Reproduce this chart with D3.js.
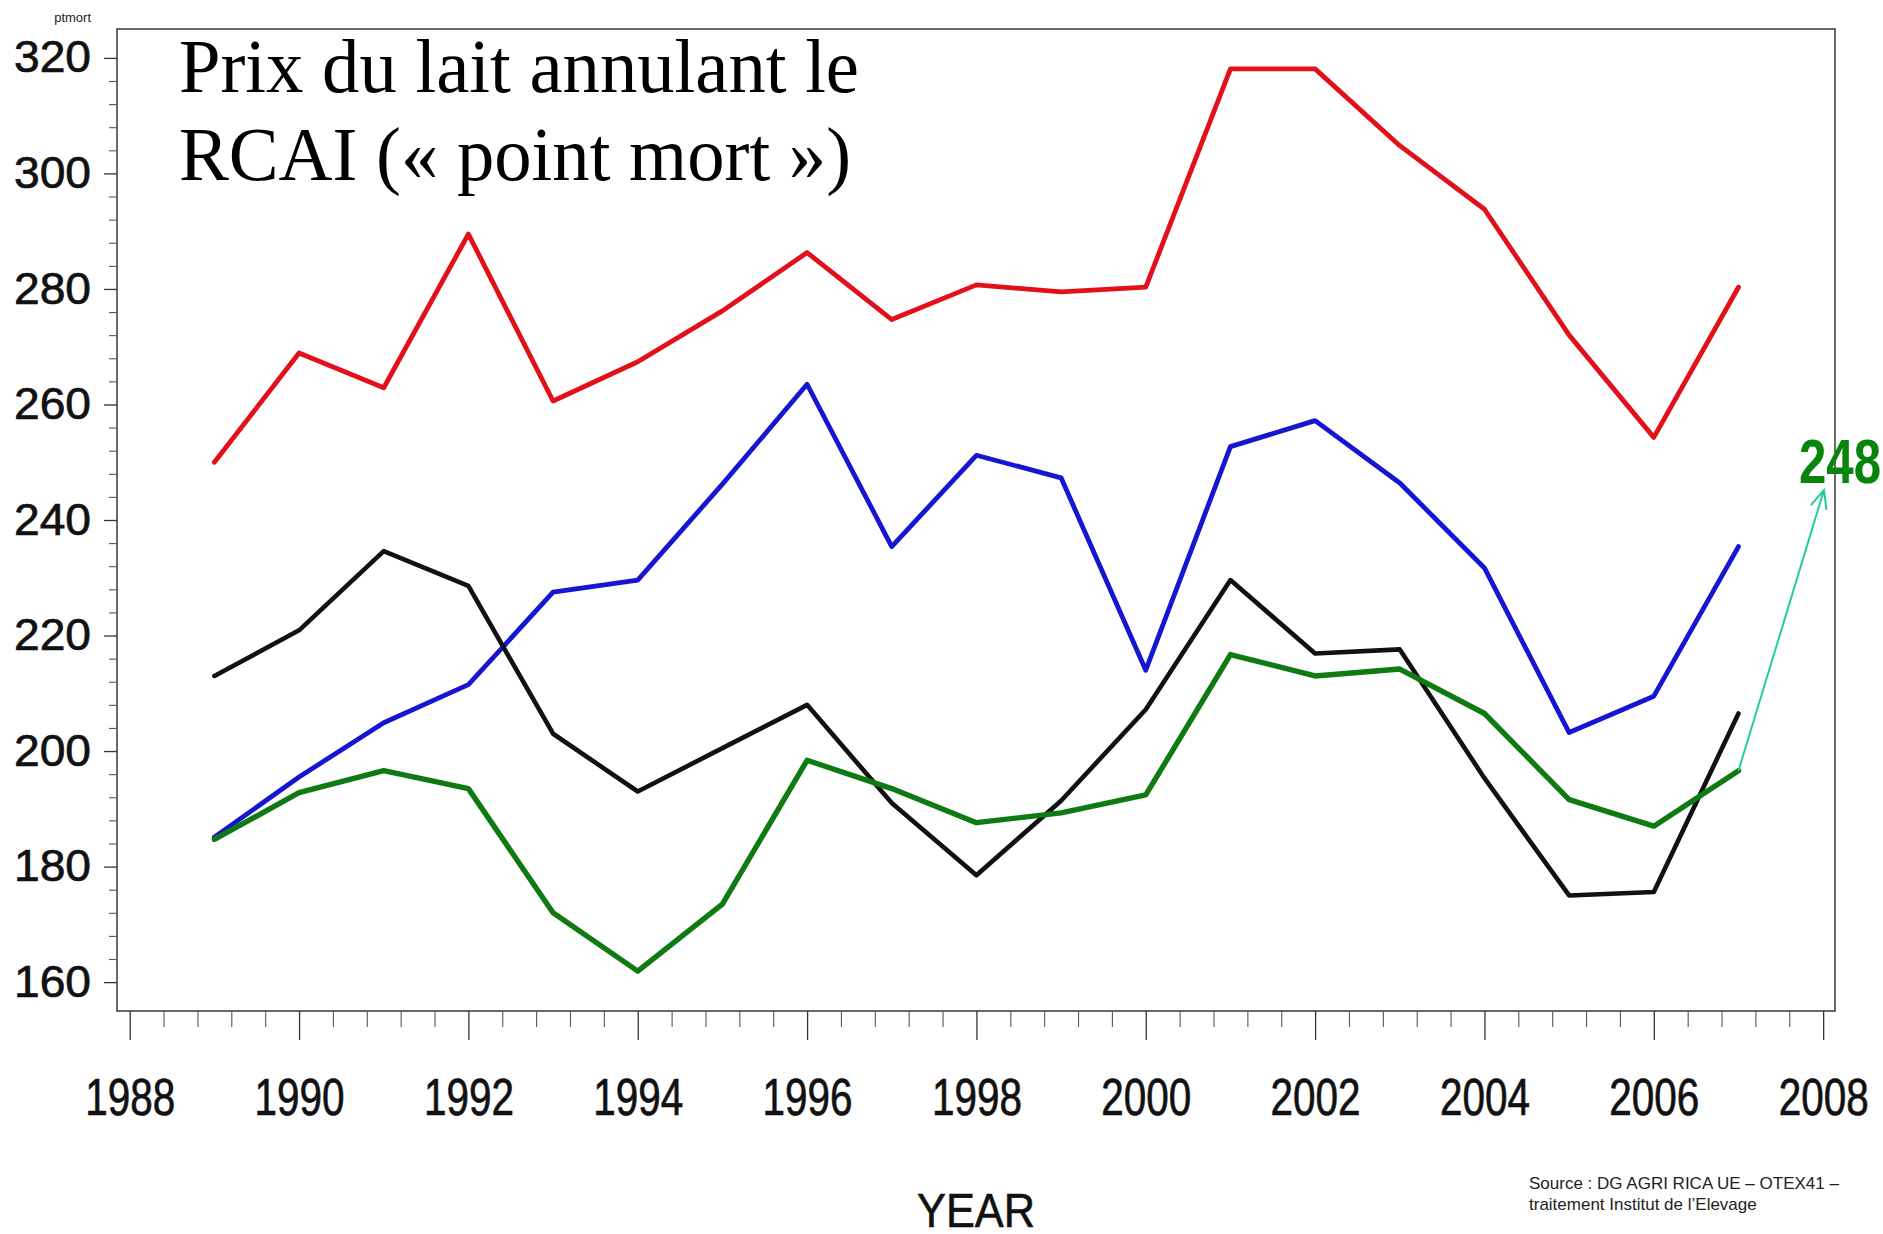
<!DOCTYPE html>
<html>
<head>
<meta charset="utf-8">
<script src="https://cdn.jsdelivr.net/npm/d3@7"></script>
<style>
  body { margin: 0; background: #fff; }
  svg { display: block; }
</style>
</head>
<body>
<svg id="chart" width="1883" height="1234"></svg>
<script>
var years = [1989, 1990, 1991, 1992, 1993, 1994, 1995, 1996, 1997, 1998,
             1999, 2000, 2001, 2002, 2003, 2004, 2005, 2006, 2007];

var red_values   = [250.0, 268.9, 262.9, 289.5, 260.6, 267.4, 276.2, 286.3, 274.7, 280.7,
                    279.5, 280.3, 318.1, 318.1, 304.8, 293.8, 272.0, 254.3, 280.3];
var blue_values  = [185.1, 195.5, 204.9, 211.5, 227.5, 229.6, 246.2, 263.5, 235.4, 251.2,
                    247.3, 214.0, 252.7, 257.2, 246.4, 231.7, 203.2, 209.5, 235.4];
var black_values = [213.0, 220.9, 234.6, 228.6, 203.0, 193.0, 200.5, 208.0, 191.0, 178.5,
                    191.4, 207.2, 229.6, 216.9, 217.6, 195.3, 175.0, 175.6, 206.5];
var green_values = [184.7, 192.8, 196.6, 193.5, 172.0, 161.9, 173.5, 198.4, 193.5, 187.6,
                    189.3, 192.4, 216.7, 213.0, 214.2, 206.5, 191.6, 187.0, 196.6];

var series = [
  {name: 'red',   color: '#e3101a', width: 4.8, values: red_values},
  {name: 'blue',  color: '#1515d2', width: 4.8, values: blue_values},
  {name: 'black', color: '#111111', width: 4.6, values: black_values},
  {name: 'green', color: '#0f7a12', width: 5.4, values: green_values}
];

var y_major_ticks = d3.range(160, 321, 20);
var y_minor_ticks = d3.range(160, 321, 4).filter(function(d){ return d % 20 !== 0; });
var x_major_ticks = d3.range(1988, 2009, 2);
var x_minor_ticks = d3.range(0, 51).map(function(i){ return 1988 + i * 0.4; })
  .filter(function(d){ return Math.abs(d - Math.round(d / 2) * 2) > 0.01; });

var title_lines = ['Prix du lait annulant le', 'RCAI (\u00ab point mort \u00bb)'];
var title_widths = [680, 672];
var source_lines = ['Source : DG AGRI RICA UE \u2013 OTEX41  \u2013', 'traitement Institut de l\u2019Elevage'];
var annotation_value = 248;

var frame = {left: 117, top: 29, right: 1835, bottom: 1011};

var x_scale = d3.scaleLinear().domain([1987.85, 2008.14]).range([frame.left, frame.right]);
var y_scale = d3.scaleLinear().domain([155, 325]).range([frame.bottom, frame.top]);

var svg = d3.select('#chart');

// plot frame
svg.append('rect')
  .attr('x', frame.left)
  .attr('y', frame.top)
  .attr('width', frame.right - frame.left)
  .attr('height', frame.bottom - frame.top)
  .style('fill', 'none')
  .style('stroke', '#444')
  .style('stroke-width', '1.6px');

// y axis, major ticks and labels
var y_axis = svg.append('g')
  .attr('class', 'y_axis')
  .attr('transform', 'translate(' + frame.left + ',0)')
  .call(d3.axisLeft(y_scale).tickValues(y_major_ticks).tickSize(13).tickPadding(13).tickSizeOuter(0));

y_axis.select('.domain').remove();
y_axis.selectAll('line').style('stroke', '#333').style('stroke-width', '1.3px');
y_axis.selectAll('text')
  .style('font-family', '"Liberation Sans", Arial, sans-serif')
  .style('font-size', '44px')
  .style('fill', '#111')
  .style('stroke', '#111')
  .style('stroke-width', '0.7px')
  .attr('textLength', 77)
  .attr('lengthAdjust', 'spacingAndGlyphs');

// y axis, minor ticks
svg.append('g')
  .attr('class', 'y_minor')
  .attr('transform', 'translate(' + frame.left + ',0)')
  .call(d3.axisLeft(y_scale).tickValues(y_minor_ticks).tickSize(8).tickFormat(''))
  .call(function(g){ g.select('.domain').remove(); })
  .selectAll('line').style('stroke', '#555').style('stroke-width', '1.1px');

// x axis, major ticks and labels
var x_axis = svg.append('g')
  .attr('class', 'x_axis')
  .attr('transform', 'translate(0,' + frame.bottom + ')')
  .call(d3.axisBottom(x_scale).tickValues(x_major_ticks).tickFormat(d3.format('d'))
    .tickSize(29).tickPadding(38).tickSizeOuter(0));

x_axis.select('.domain').remove();
x_axis.selectAll('line').style('stroke', '#333').style('stroke-width', '1.3px');
x_axis.selectAll('text')
  .style('font-family', '"Liberation Sans", Arial, sans-serif')
  .style('font-size', '52px')
  .style('fill', '#111')
  .style('stroke', '#111')
  .style('stroke-width', '0.7px')
  .attr('textLength', 90)
  .attr('lengthAdjust', 'spacingAndGlyphs');

// x axis, minor ticks
svg.append('g')
  .attr('class', 'x_minor')
  .attr('transform', 'translate(0,' + frame.bottom + ')')
  .call(d3.axisBottom(x_scale).tickValues(x_minor_ticks).tickSize(16).tickFormat(''))
  .call(function(g){ g.select('.domain').remove(); })
  .selectAll('line').style('stroke', '#555').style('stroke-width', '1.1px');

// axis names
svg.append('text')
  .attr('x', 91)
  .attr('y', 22)
  .attr('text-anchor', 'end')
  .style('font-family', '"Liberation Sans", Arial, sans-serif')
  .style('font-size', '13px')
  .style('fill', '#222')
  .text('ptmort');

svg.append('text')
  .attr('x', (frame.left + frame.right) / 2)
  .attr('y', 1227)
  .attr('text-anchor', 'middle')
  .attr('textLength', 118)
  .attr('lengthAdjust', 'spacingAndGlyphs')
  .style('font-family', '"Liberation Sans", Arial, sans-serif')
  .style('font-size', '49px')
  .style('fill', '#111')
  .style('stroke', '#111')
  .style('stroke-width', '0.6px')
  .text('YEAR');

// series lines
var line = d3.line()
  .x(function(d){ return x_scale(d.year); })
  .y(function(d){ return y_scale(d.value); });

svg.append('g')
  .attr('class', 'series')
  .selectAll('path')
  .data(series)
  .enter()
  .append('path')
  .attr('d', function(s){
    return line(years.map(function(yr, i){ return {year: yr, value: s.values[i]}; }));
  })
  .style('fill', 'none')
  .style('stroke', function(s){ return s.color; })
  .style('stroke-width', function(s){ return s.width + 'px'; })
  .style('stroke-linejoin', 'round')
  .style('stroke-linecap', 'round');

// title
svg.append('g')
  .attr('class', 'title')
  .selectAll('text')
  .data(title_lines)
  .enter()
  .append('text')
  .attr('x', 179)
  .attr('y', function(d, i){ return 92 + i * 88; })
  .attr('textLength', function(d, i){ return title_widths[i]; })
  .attr('lengthAdjust', 'spacingAndGlyphs')
  .style('font-family', '"Liberation Serif", "Times New Roman", serif')
  .style('font-size', '77px')
  .style('fill', '#000')
  .text(function(d){ return d; });

// annotation arrow from last green point to the 248 label
var arrow_start = [x_scale(2007), y_scale(green_values[green_values.length - 1])];
var arrow_tip = [1824, 490];
var arrow_angle = Math.atan2(arrow_tip[1] - arrow_start[1], arrow_tip[0] - arrow_start[0]);
var head_len = 20, head_spread = 0.42;

svg.append('path')
  .attr('d',
    'M' + arrow_start[0] + ',' + arrow_start[1] + 'L' + arrow_tip[0] + ',' + arrow_tip[1] +
    'M' + (arrow_tip[0] - head_len * Math.cos(arrow_angle - head_spread)) + ',' +
          (arrow_tip[1] - head_len * Math.sin(arrow_angle - head_spread)) +
    'L' + arrow_tip[0] + ',' + arrow_tip[1] +
    'L' + (arrow_tip[0] - head_len * Math.cos(arrow_angle + head_spread)) + ',' +
          (arrow_tip[1] - head_len * Math.sin(arrow_angle + head_spread)))
  .style('fill', 'none')
  .style('stroke', '#1ecf9c')
  .style('stroke-width', '2px');

svg.append('text')
  .attr('x', 1799)
  .attr('y', 483)
  .attr('textLength', 82)
  .attr('lengthAdjust', 'spacingAndGlyphs')
  .style('font-family', '"Liberation Sans", Arial, sans-serif')
  .style('font-weight', 'bold')
  .style('font-size', '63px')
  .style('fill', '#08850a')
  .text(annotation_value);

// source note
svg.append('g')
  .attr('class', 'source')
  .selectAll('text')
  .data(source_lines)
  .enter()
  .append('text')
  .attr('x', 1529)
  .attr('y', function(d, i){ return 1189 + i * 21; })
  .style('font-family', '"Liberation Sans", Arial, sans-serif')
  .style('font-size', '17px')
  .style('fill', '#222')
  .text(function(d){ return d; });
</script>
</body>
</html>
